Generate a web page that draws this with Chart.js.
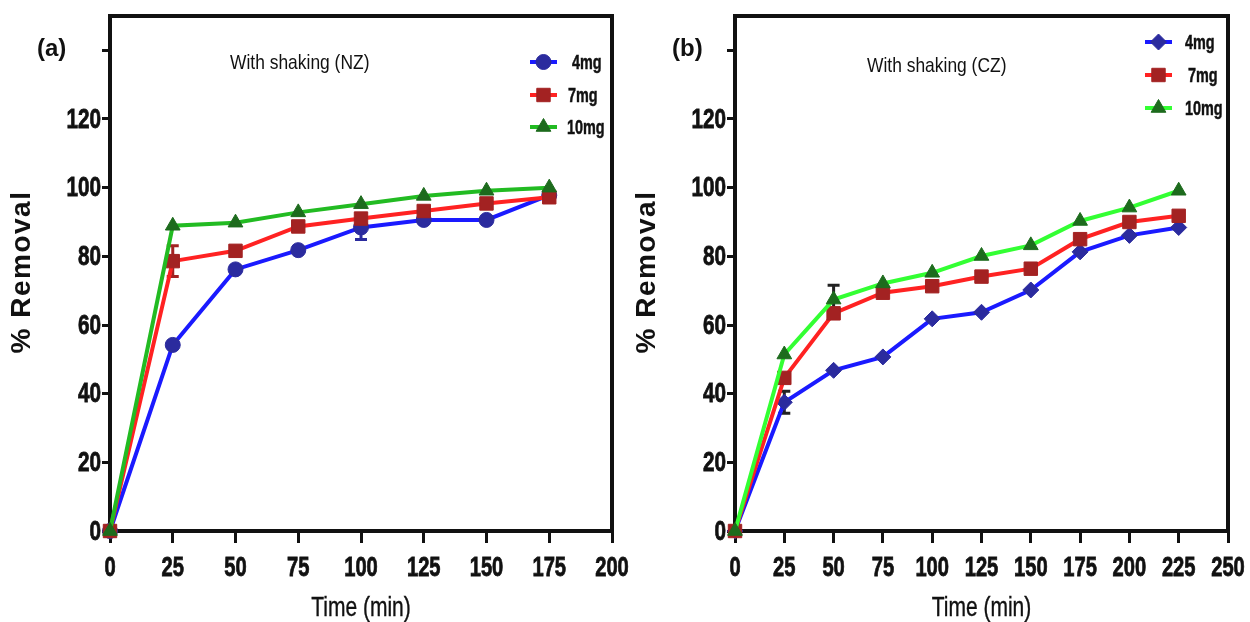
<!DOCTYPE html>
<html>
<head>
<meta charset="utf-8">
<script src="https://cdn.jsdelivr.net/npm/chart.js@4.4.1/dist/chart.umd.min.js"></script>
<style>
  html, body { margin: 0; padding: 0; background: #fff; }
  .panel { position: absolute; top: 0; height: 622px; }
  #panelA { left: 0; width: 640px; }
  #panelB { left: 625px; width: 625px; }
</style>
</head>
<body>
<div class="panel" id="panelA"><canvas id="chartA"></canvas></div>
<div class="panel" id="panelB"><canvas id="chartB"></canvas></div>
<script>
// (a) with shaking, NZ
const timeNZ = [0, 25, 50, 75, 100, 125, 150, 175];
const nz4mg = [0, 54.2, 76.2, 81.8, 88.4, 90.6, 90.6, 97.8];
const nz7mg = [0, 78.6, 81.6, 88.7, 91.0, 93.2, 95.4, 97.2];
const nz10mg = [0, 88.9, 89.8, 92.8, 95.2, 97.6, 99.1, 100.0];
const nz4mgErr = [0, 0, 0, 0, 3.5, 0, 0, 0];
const nz7mgErr = [0, 4.5, 0, 0, 0, 0, 0, 0];

// (b) with shaking, CZ
const timeCZ = [0, 25, 50, 75, 100, 125, 150, 175, 200, 225];
const cz4mg = [0, 37.5, 46.8, 50.7, 61.8, 63.7, 70.2, 81.3, 86.1, 88.4];
const cz7mg = [0, 44.6, 63.4, 69.4, 71.3, 74.1, 76.4, 85.0, 90.0, 91.8];
const cz10mg = [0, 51.4, 67.4, 72.1, 75.2, 80.1, 83.2, 90.3, 94.2, 99.1];
const cz4mgErr = [0, 3.2, 0, 0, 0, 0, 0, 0, 0, 0];
const cz10mgErr = [0, 0, 4.2, 0, 0, 0, 0, 0, 0, 0];

const seriesNames = ['4mg', '7mg', '10mg'];
const yTicks = [0, 20, 40, 60, 80, 100, 120, 140];

const FONT = '"Liberation Sans", Arial, sans-serif';
const INK = '#111';

function pairs(xs, ys) {
  return ys.map((y, i) => ({ x: xs[i], y: y }));
}

function makeSet(label, xs, ys, errs, lineColor, markColor, style, radius) {
  return {
    label: label,
    data: pairs(xs, ys),
    errors: errs,
    borderColor: lineColor,
    borderWidth: 4,
    pointStyle: style,
    pointRadius: radius,
    pointBackgroundColor: markColor,
    pointBorderColor: markColor,
    pointBorderWidth: 1,
    tension: 0,
    clip: false
  };
}

// text squeezed horizontally, close to a condensed face; heavy adds a thin outline
function narrowText(ctx, text, x, y, font, sx, align, heavy) {
  ctx.save();
  ctx.font = font;
  ctx.textAlign = align;
  ctx.textBaseline = 'middle';
  ctx.translate(x, y);
  ctx.scale(sx, 1);
  ctx.fillText(text, 0, 0);
  if (heavy) {
    ctx.strokeStyle = ctx.fillStyle;
    ctx.lineWidth = heavy;
    ctx.strokeText(text, 0, 0);
  }
  ctx.restore();
}

// frame, error bars, tick labels, titles and the inset legend
const panelDecor = {
  id: 'panelDecor',
  beforeDatasetsDraw(chart, args, opts) {
    const { ctx, chartArea: a } = chart;
    const xs = chart.scales.x, ys = chart.scales.y;
    ctx.save();
    ctx.strokeStyle = INK;
    ctx.lineWidth = 4;
    ctx.strokeRect(a.left, a.top, a.right - a.left, a.bottom - a.top);

    ctx.lineWidth = 3;
    chart.data.datasets.forEach(ds => {
      if (!ds.errors) return;
      ds.data.forEach((p, i) => {
        const e = ds.errors[i];
        if (!e) return;
        const px = xs.getPixelForValue(p.x);
        const top = ys.getPixelForValue(p.y + e);
        const bot = ys.getPixelForValue(p.y - e);
        ctx.strokeStyle = opts.errColor || ds.pointBackgroundColor;
        ctx.beginPath();
        ctx.moveTo(px, top); ctx.lineTo(px, bot);
        ctx.moveTo(px - 6, top); ctx.lineTo(px + 6, top);
        ctx.moveTo(px - 6, bot); ctx.lineTo(px + 6, bot);
        ctx.stroke();
      });
    });
    ctx.restore();
  },
  afterDraw(chart, args, opts) {
    const { ctx, chartArea: a } = chart;
    const xs = chart.scales.x, ys = chart.scales.y;
    ctx.save();
    ctx.fillStyle = INK;

    // tick labels
    const tickFont = 'bold 28px ' + FONT;
    xs.ticks.forEach(t => {
      narrowText(ctx, String(t.value), xs.getPixelForValue(t.value), 568, tickFont, 0.72, 'center', 0.8);
    });
    ys.ticks.forEach(t => {
      if (t.value === 140) return;
      narrowText(ctx, String(t.value), a.left - 9, ys.getPixelForValue(t.value) + 1, tickFont, 0.74, 'right', 0.8);
    });

    // panel letter
    ctx.font = 'bold 24px ' + FONT;
    ctx.textAlign = 'left';
    ctx.textBaseline = 'middle';
    ctx.fillText(opts.letter, opts.letterX, 49);

    // condition label
    narrowText(ctx, opts.note, opts.noteX, opts.noteY, '21px ' + FONT, 0.83, 'left');

    // y title
    ctx.save();
    ctx.translate(22, 272);
    ctx.rotate(-Math.PI / 2);
    ctx.font = 'bold 28px ' + FONT;
    ctx.letterSpacing = '1.5px';
    ctx.textAlign = 'center';
    ctx.fillText('% Removal', 0, 0);
    ctx.restore();

    // x title, centred under the plot
    narrowText(ctx, 'Time (min)', (a.left + a.right) / 2, 608, '28px ' + FONT, 0.75, 'center', 0.4);

    // legend
    chart.data.datasets.forEach((ds, i) => {
      const y = opts.legendY[i];
      const x0 = opts.legendX;
      ctx.strokeStyle = ds.borderColor;
      ctx.lineWidth = 4;
      ctx.beginPath();
      ctx.moveTo(x0, y); ctx.lineTo(x0 + 27, y);
      ctx.stroke();
      ctx.fillStyle = ds.pointBackgroundColor;
      ctx.strokeStyle = ds.pointBorderColor;
      ctx.lineWidth = 1;
      Chart.helpers.drawPoint(ctx, { pointStyle: ds.pointStyle, radius: ds.pointRadius, rotation: 0, borderWidth: 1 }, x0 + 13.5, y);
      ctx.fillStyle = INK;
      narrowText(ctx, ds.label, opts.legendTextX[i], y + 1, 'bold 20px ' + FONT, 0.72, 'left', 0.5);
    });
    ctx.restore();
  }
};

function makeOptions(xMax, rightPad, decor) {
  return {
    responsive: true,
    maintainAspectRatio: false,
    animation: false,
    layout: { padding: { top: 16, right: rightPad, left: 0, bottom: 0 } },
    plugins: {
      legend: { display: false },
      tooltip: { enabled: false },
      panelDecor: decor
    },
    scales: {
      x: {
        type: 'linear',
        min: 0,
        max: xMax,
        afterFit: s => { s.height = 91; },
        border: { display: false },
        grid: { drawOnChartArea: false, drawTicks: true, tickLength: 12, tickWidth: 3, color: INK },
        ticks: { stepSize: 25, display: false }
      },
      y: {
        type: 'linear',
        min: 0,
        max: 150,
        afterFit: s => { s.width = 110; },
        afterBuildTicks: s => { s.ticks = yTicks.map(v => ({ value: v })); },
        border: { display: false },
        grid: { drawOnChartArea: false, drawTicks: true, tickLength: 8, tickWidth: 3, color: INK },
        ticks: { display: false }
      }
    }
  };
}

new Chart(document.getElementById('chartA'), {
  type: 'line',
  data: {
    datasets: [
      makeSet(seriesNames[0], timeNZ, nz4mg, nz4mgErr, '#1a1aff', '#2b2b9e', 'circle', 7.5),
      makeSet(seriesNames[1], timeNZ, nz7mg, nz7mgErr, '#ff2222', '#a32222', 'rect', 9.5),
      makeSet(seriesNames[2], timeNZ, nz10mg, null, '#22bb22', '#1d6b1d', 'triangle', 8.5)
    ].reverse()
  },
  options: makeOptions(200, 28, {
    letter: '(a)', letterX: 37,
    note: 'With shaking (NZ)', noteX: 230, noteY: 63,
    legendX: 530, legendY: [127, 95, 62], legendTextX: [567, 568, 572]
  }),
  plugins: [panelDecor]
});

new Chart(document.getElementById('chartB'), {
  type: 'line',
  data: {
    datasets: [
      makeSet(seriesNames[0], timeCZ, cz4mg, cz4mgErr, '#1a1aff', '#2b2b9e', 'rectRot', 8),
      makeSet(seriesNames[1], timeCZ, cz7mg, null, '#ff2222', '#a32222', 'rect', 9.5),
      makeSet(seriesNames[2], timeCZ, cz10mg, cz10mgErr, '#33ff33', '#1d6b1d', 'triangle', 8.5)
    ].reverse()
  },
  options: makeOptions(250, 22, {
    letter: '(b)', letterX: 47,
    note: 'With shaking (CZ)', noteX: 242, noteY: 66,
    errColor: '#222',
    legendX: 520, legendY: [108, 75, 42], legendTextX: [560, 563, 560]
  }),
  plugins: [panelDecor]
});
</script>
</body>
</html>
